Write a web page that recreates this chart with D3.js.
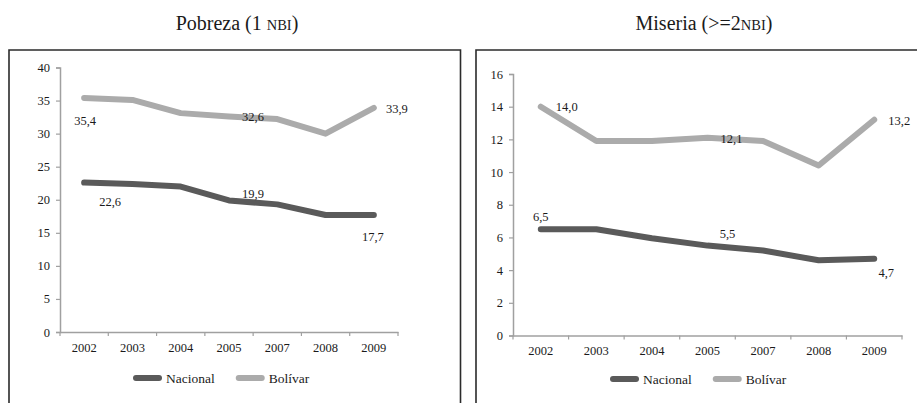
<!DOCTYPE html>
<html>
<head>
<meta charset="utf-8">
<script src="https://cdn.jsdelivr.net/npm/d3@7"></script>
<style>
  html, body { margin: 0; padding: 0; background: #fff; }
  svg, svg text { font-family: "Liberation Serif", "Times New Roman", serif !important; }
  svg text { fill: #1a1a1a; }
</style>
</head>
<body>
<svg id="chart" width="917" height="403" font-family="Liberation Serif"></svg>
<script>
// Years shown on both charts
const years = ["2002", "2003", "2004", "2005", "2007", "2008", "2009"];

// Pobreza (1 NBI), %
const pobrezaNacional = [22.6, 22.4, 22.0, 19.9, 19.3, 17.7, 17.7];
const pobrezaBolivar  = [35.4, 35.1, 33.1, 32.6, 32.2, 30.0, 33.9];
const pobrezaTicks = [0, 5, 10, 15, 20, 25, 30, 35, 40];

// Miseria (>=2 NBI), %
const miseriaNacional = [6.5, 6.5, 5.95, 5.5, 5.2, 4.6, 4.7];
const miseriaBolivar  = [14.0, 11.9, 11.9, 12.1, 11.9, 10.4, 13.2];
const miseriaTicks = [0, 2, 4, 6, 8, 10, 12, 14, 16];

const seriesNames = ["Nacional", "Bolívar"];
const seriesColors = ["#5a5a5a", "#ababab"];
const FONT = "Liberation Serif";

const svg = d3.select("#chart");

function drawPanel(cfg) {
  const g = svg.append("g").attr("font-family", FONT);

  // panel frame (open at the bottom edge of the page)
  g.append("path")
    .attr("d", `M${cfg.frame[0]},${cfg.frame[3]} V${cfg.frame[1]} H${cfg.frame[2]} V${cfg.frame[3]}`)
    .attr("fill", "none").attr("stroke", "#2b2b2b").attr("stroke-width", 1.6);

  // title with small-caps "NBI"
  const t = g.append("text")
    .attr("x", cfg.titleX).attr("y", 30)
    .attr("text-anchor", "middle")
    .attr("font-family", FONT)
    .style("font-size", "20px");
  t.append("tspan").text(cfg.title[0]);
  t.append("tspan").style("font-size", "14.5px").text(cfg.title[1]);
  t.append("tspan").text(")");

  const x = d3.scaleBand().domain(years).range(cfg.xRange).padding(0);
  const y = d3.scaleLinear().domain([0, cfg.yMax]).range(cfg.yRange);

  // y axis
  const yAxis = g.append("g")
    .attr("transform", `translate(${cfg.xRange[0]},0)`)
    .call(d3.axisLeft(y).tickValues(cfg.ticks).tickSize(4).tickPadding(6).tickFormat(d3.format("d")))
    .attr("font-family", FONT).attr("font-size", 12.5);
  yAxis.select(".domain").attr("stroke", "#a0a0a0").attr("stroke-width", 1.5);
  yAxis.selectAll(".tick line").attr("stroke", "#a0a0a0").attr("stroke-width", 1.2);
  yAxis.selectAll(".tick text").attr("fill", "#1a1a1a");

  // x axis with ticks at category boundaries
  const xAxis = g.append("g")
    .attr("transform", `translate(0,${cfg.yRange[0]})`)
    .call(d3.axisBottom(x).tickSize(0).tickPadding(cfg.xPad))
    .attr("font-family", FONT).attr("font-size", 12.5);
  xAxis.select(".domain").attr("stroke", "#a0a0a0").attr("stroke-width", 1.5);
  xAxis.selectAll(".tick text").attr("fill", "#1a1a1a");
  const bounds = years.map(d => x(d)).concat([x(years[years.length - 1]) + x.bandwidth()]);
  xAxis.selectAll("line.bound").data(bounds).enter().append("line")
    .attr("class", "bound")
    .attr("x1", d => d).attr("x2", d => d)
    .attr("y1", 0).attr("y2", 4)
    .attr("stroke", "#a0a0a0").attr("stroke-width", 1.2);

  const cx = d => x(d) + x.bandwidth() / 2;
  const line = d3.line().x(d => cx(d.year)).y(d => y(d.value));

  // series lines
  cfg.series.forEach((vals, i) => {
    const pts = years.map((yr, j) => ({ year: yr, value: vals[j] }));
    g.append("path")
      .datum(pts)
      .attr("d", line)
      .attr("fill", "none")
      .attr("stroke", seriesColors[i])
      .attr("stroke-width", 6)
      .attr("stroke-linecap", "round")
      .attr("stroke-linejoin", "round");
  });

  // data labels
  cfg.labels.forEach(l => {
    const v = cfg.series[l.s][l.i];
    g.append("text")
      .attr("x", cx(years[l.i]) + l.dx)
      .attr("y", y(v) + l.dy)
      .attr("text-anchor", "middle")
      .attr("font-family", FONT)
      .style("font-size", "12.5px")
      .text(d3.format(".1f")(v).replace(".", ","));
  });

  // legend
  const lg = g.append("g").attr("transform", `translate(${cfg.legendX},${cfg.legendY})`);
  let off = 0;
  seriesNames.forEach((name, i) => {
    lg.append("line")
      .attr("x1", off + 3).attr("x2", off + 26)
      .attr("y1", 0).attr("y2", 0)
      .attr("stroke", seriesColors[i]).attr("stroke-width", 6)
      .attr("stroke-linecap", "round");
    const tx = lg.append("text")
      .attr("x", off + 33).attr("y", 5)
      .attr("font-family", FONT)
      .style("font-size", "13.5px")
      .text(name);
    off += 33 + tx.node().getComputedTextLength() + 21;
  });
}

drawPanel({
  frame: [9, 50, 460.5, 410],
  title: ["Pobreza (1 ", "NBI"],
  titleX: 237,
  xRange: [60, 398],
  yRange: [332, 67.5],
  yMax: 40,
  ticks: pobrezaTicks,
  xPad: 11,
  series: [pobrezaNacional, pobrezaBolivar],
  labels: [
    { s: 1, i: 0, dx: 1, dy: 27 },
    { s: 0, i: 0, dx: 26, dy: 23 },
    { s: 1, i: 3, dx: 24, dy: 5 },
    { s: 0, i: 3, dx: 24, dy: -2 },
    { s: 1, i: 6, dx: 23, dy: 5 },
    { s: 0, i: 6, dx: -1, dy: 26 }
  ],
  legendX: 133,
  legendY: 378
});

drawPanel({
  frame: [476, 50, 930, 410],
  title: ["Miseria (>=2", "NBI"],
  titleX: 704,
  xRange: [513, 902],
  yRange: [335.5, 74],
  yMax: 16,
  ticks: miseriaTicks,
  xPad: 11,
  series: [miseriaNacional, miseriaBolivar],
  labels: [
    { s: 1, i: 0, dx: 26, dy: 4 },
    { s: 0, i: 0, dx: 0, dy: -8 },
    { s: 1, i: 3, dx: 24, dy: 5 },
    { s: 0, i: 3, dx: 20, dy: -8 },
    { s: 1, i: 6, dx: 25, dy: 5 },
    { s: 0, i: 6, dx: 12, dy: 18 }
  ],
  legendX: 610,
  legendY: 379
});
</script>
</body>
</html>
